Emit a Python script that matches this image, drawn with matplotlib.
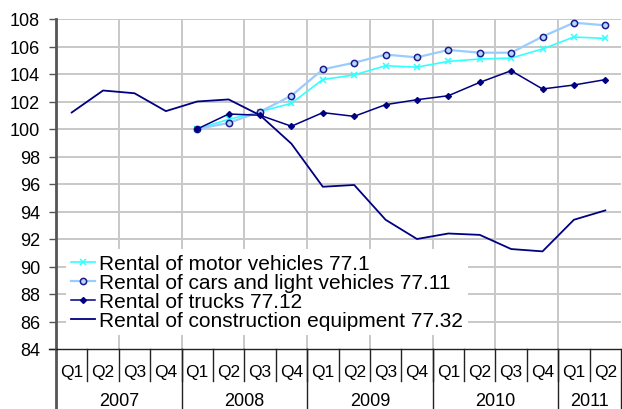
import matplotlib
matplotlib.use("Agg")
import matplotlib.pyplot as plt
import numpy as np
from matplotlib.lines import Line2D

plt.rcParams['font.family'] = ['Liberation Sans', 'DejaVu Sans']

quarters = ["Q1", "Q2", "Q3", "Q4"] * 4 + ["Q1", "Q2"]
years = ["2007", "2008", "2009", "2010", "2011"]
year_counts = [4, 4, 4, 4, 2]

motor = [None, None, None, None, 100.0, 100.7, 101.26, 101.87, 103.6, 103.93, 104.6, 104.5,
         104.92, 105.09, 105.16, 105.82, 106.69, 106.59]
cars = [None, None, None, None, 100.0, 100.44, 101.26, 102.42, 104.34, 104.82, 105.41, 105.21,
        105.75, 105.55, 105.55, 106.72, 107.73, 107.54]
trucks = [None, None, None, None, 100.0, 101.09, 101.0, 100.2, 101.19, 100.92, 101.77, 102.13,
          102.42, 103.39, 104.24, 102.91, 103.2, 103.59]
construction = [101.2, 102.8, 102.6, 101.3, 102.0, 102.15, 101.0, 98.93, 95.8, 95.93, 93.4, 92.0,
                92.4, 92.3, 91.27, 91.1, 93.4, 94.08]

labels = ["Rental of motor vehicles 77.1",
          "Rental of cars and light vehicles 77.11",
          "Rental of trucks 77.12",
          "Rental of construction equipment 77.32"]

W, H = 622, 410
fig = plt.figure(figsize=(W / 100, H / 100), dpi=100)
ax = fig.add_axes([56 / W, (H - 350) / H, (621 - 56) / W, 330 / H])

x = np.arange(len(quarters))
def arr(v):
    return np.array([np.nan if a is None else a for a in v], dtype=float)

navy = "#000080"
ax.plot(x, arr(motor), color="#33ffff", lw=1.2, marker="x", ms=4, mew=1.1, label=labels[0])
ax.plot(x, arr(cars), color="#99ccff", lw=1.6, marker="o", ms=4.5, mfc="#b8d8ff",
        mec="#1c1c8c", mew=1.1, label=labels[1])
ax.plot(x, arr(trucks), color=navy, lw=1.1, marker="D", ms=3, mfc=navy, mec=navy, label=labels[2])
ax.plot(x, arr(construction), color=navy, lw=1.3, label=labels[3])

ax.set_xlim(-0.5, len(quarters) - 0.5)
ax.set_ylim(84, 108)
ax.set_yticks(np.arange(84, 109, 2))
ax.tick_params(axis="y", length=5, width=1, color="#555555", labelsize=13, pad=6.5)
ax.set_xticks([])
ax.grid(False)
for yv in np.arange(86, 109, 2):
    ax.axhline(yv, color="#c8c8c8", lw=1.4, zorder=0)
for xv in np.arange(1.5, len(quarters) - 1, 2):
    ax.axvline(xv, color="#c8c8c8", lw=1.4, zorder=0)

for s in ["top", "right"]:
    ax.spines[s].set_visible(False)
ax.spines["left"].set_color("#555555")
ax.spines["left"].set_linewidth(2)
ax.spines["bottom"].set_color("#222222")
ax.spines["bottom"].set_linewidth(1)

# category axis (multi level)
trans = ax.get_xaxis_transform()
px = 1 / 330.0  # axes fraction per pixel (vertical)
for i, q in enumerate(quarters):
    ax.text(i, -23 * px, q, transform=trans, ha="center", va="center", fontsize=12.5, clip_on=False)
for i in range(1, len(quarters)):
    ax.add_line(Line2D([i - 0.5, i - 0.5], [0, -32 * px], transform=trans, color="#222222",
                       lw=1, clip_on=False))
bounds = np.concatenate([[0], np.cumsum(year_counts)])
for j, yr in enumerate(years):
    c = (bounds[j] + bounds[j + 1]) / 2 - 0.5
    ax.text(c, -52 * px, yr, transform=trans, ha="center", va="center", fontsize=13, clip_on=False)
for b in bounds[1:]:
    ax.add_line(Line2D([b - 0.5, b - 0.5], [0, -60 * px], transform=trans, color="#222222",
                       lw=1, clip_on=False))
ax.add_line(Line2D([-0.5, -0.5], [0, -60 * px], transform=trans, color="#555555",
                   lw=2, clip_on=False))
ax.add_line(Line2D([-0.5 - 7 / 31.4, -0.5], [0, 0], transform=trans, color="#222222",
                   lw=1, clip_on=False))

leg = ax.legend(loc="upper left", bbox_to_anchor=(66 / W, (H - 250) / H),
                bbox_transform=fig.transFigure, fontsize=15, frameon=True,
                facecolor="white", edgecolor="none", framealpha=1, fancybox=False,
                borderpad=0.25, labelspacing=0.0, handlelength=1.15, handletextpad=0.18,
                borderaxespad=0)
leg.set_zorder(5)

fig.savefig("out.png", dpi=100)
